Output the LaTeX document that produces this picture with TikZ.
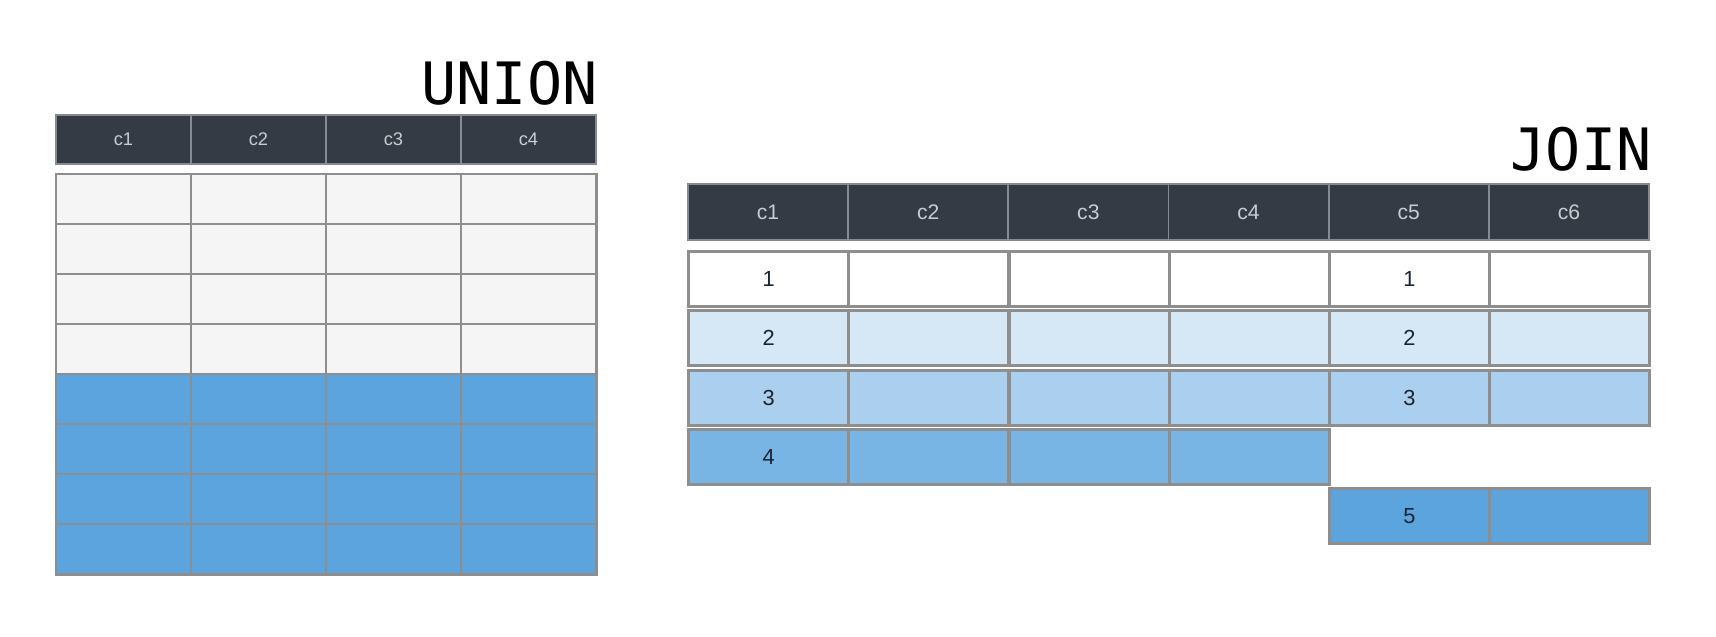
\documentclass[tikz,border=0pt]{standalone}
\usepackage{fontspec}
\setmainfont{Liberation Sans}
\newfontfamily\titlefont{DejaVu Sans Mono}
\usepackage{tikz}

\definecolor{HeadSlate}{HTML}{343B44}
\definecolor{HeadText}{HTML}{C9CDD2}
\definecolor{RowLine}{HTML}{8E8E8E}
\definecolor{RowWhite}{HTML}{F5F5F5}
\definecolor{RowBlueA}{HTML}{D6E7F6}
\definecolor{RowBlueB}{HTML}{ABD0EF}
\definecolor{RowBlueC}{HTML}{78B5E4}
\definecolor{RowBlueD}{HTML}{5BA4DD}
\definecolor{NumText}{HTML}{1A2430}

\begin{document}
\begin{tikzpicture}[x = 0.01cm, y = -0.01cm,
    title/.style = {anchor = base east, inner sep = 0pt, font = \titlefont\fontsize{16.6}{17}\selectfont},
    hdr/.style = {fill = HeadSlate, draw = HeadText!55!HeadSlate, line width = 0.5pt, anchor = north west, inner sep = 0pt, text = HeadText},
    ucell/.style = {draw = RowLine, line width = 0.7pt, anchor = north west, inner sep = 0pt, minimum width = 1.35cm, minimum height = 0.5cm},
    jcell/.style = {draw = RowLine, line width = 0.9pt, anchor = north west, inner sep = 0pt, minimum width = 1.6cm, minimum height = 0.55cm, text = NumText, font = \fontsize{6.2}{7}\selectfont}]
    \fill [white] (0, 0) rectangle (1716, 636);

    % union
    \node [title] (union) at (598, 104) {UNION};
    \foreach \c in {1, ..., 4}
        \node [hdr, minimum width = 1.35cm, minimum height = 0.49cm, font = \fontsize{5.2}{6}\selectfont] (u-h\c) at ({55 + (\c - 1) * 135}, 114) {c\c};
    \foreach \r / \rowcol in {1/RowWhite, 2/RowWhite, 3/RowWhite, 4/RowWhite, 5/RowBlueD, 6/RowBlueD, 7/RowBlueD, 8/RowBlueD}
        \foreach \c in {1, ..., 4}
            \node [ucell, fill = \rowcol] (u-r\r c\c) at ({55 + (\c - 1) * 135}, {173 + (\r - 1) * 50}) {};

    % join
    \node [title] (join) at (1652, 170) {JOIN};
    \foreach \c in {1, ..., 6}
        \node [hdr, minimum width = 1.6cm, minimum height = 0.56cm, font = \fontsize{6}{7}\selectfont] (j-h\c) at ({687 + (\c - 1) * 160.2}, 183) {c\c};
    \foreach \r / \top / \rowcol in {1/250/white, 2/309/RowBlueA, 3/369/RowBlueB} {
        \node [jcell, fill = \rowcol] (j-r\r c1) at (687, \top) {\r};
        \foreach \c in {2, 3, 4, 6}
            \node [jcell, fill = \rowcol] (j-r\r c\c) at ({687 + (\c - 1) * 160.2}, \top) {};
        \node [jcell, fill = \rowcol] (j-r\r c5) at ({687 + 4 * 160.2}, \top) {\r};
    }
    \node [jcell, fill = RowBlueC] (j-r4c1) at (687, 428) {4};
    \foreach \c in {2, 3, 4}
        \node [jcell, fill = RowBlueC] (j-r4c\c) at ({687 + (\c - 1) * 160.2}, 428) {};
    \node [jcell, fill = RowBlueD] (j-r5c5) at ({687 + 4 * 160.2}, 487) {5};
    \node [jcell, fill = RowBlueD] (j-r5c6) at ({687 + 5 * 160.2}, 487) {};
\end{tikzpicture}
\end{document}
